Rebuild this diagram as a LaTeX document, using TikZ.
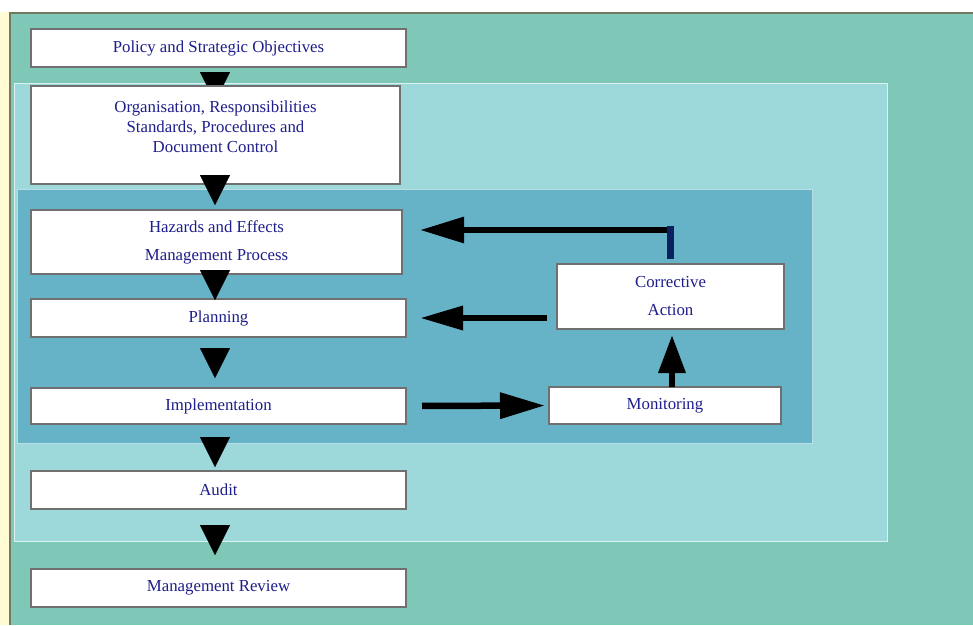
\documentclass[tikz,border=0pt]{standalone}
\usepackage{fontspec}
\setmainfont{Liberation Serif}
\usepackage{xcolor}
\definecolor{cOuter}{HTML}{7FC8B7}
\definecolor{cMid}{HTML}{9DD8DB}
\definecolor{cInner}{HTML}{66B3C8}
\definecolor{cCream}{HTML}{FFFBD2}
\definecolor{cFrame}{HTML}{737A5E}
\definecolor{cEdge}{HTML}{707070}
\definecolor{cInk}{HTML}{1E1E8C}
\definecolor{cNavy}{HTML}{0B2060}
\usepackage{tikz}
\usetikzlibrary{positioning,arrows.meta,calc,backgrounds}
\tikzset{
  stage/.style={draw=cEdge,line width=1.3pt,fill=white,text=cInk,
    inner sep=0pt,outer sep=0pt,align=center,anchor=north west,
    minimum width=375pt,minimum height=38pt,
    font=\fontsize{16.8}{20}\selectfont},
  region/.style={line width=1pt},
  drop/.style={-{Triangle[length=30pt,width=30pt]},line width=0.2pt,draw=black},
  flow/.style={-{Triangle[length=44pt,width=25pt]},line width=6.5pt,draw=black},
  flow-back/.style={line width=7pt,draw=cNavy},
}

\begin{document}
\begin{tikzpicture}[x=1pt,y=-1pt]
  \useasboundingbox (0,0) rectangle (973,625);
  % main column
  \node[stage] (pol) at (31,29) {Policy and Strategic Objectives};
  \node[stage,minimum width=369pt,minimum height=98pt,below=19pt of pol.south west,anchor=north west] (org)
    {Organisation, Responsibilities\\Standards, Procedures and\\Document Control\\[-9pt]\strut};
  \node[stage,minimum width=371pt,minimum height=64pt,below=26pt of org.south west,anchor=north west] (haz)
    {Hazards and Effects\\[8pt]Management Process};
  \node[stage,below=25pt of haz.south west,anchor=north west] (pln) {Planning};
  \node[stage,minimum height=36pt,below=51pt of pln.south west,anchor=north west] (imp) {Implementation};
  \node[stage,below=47pt of imp.south west,anchor=north west] (aud) {Audit};
  \node[stage,below=60pt of aud.south west,anchor=north west] (mr) {Management Review};
  % loop on the right
  \node[stage,minimum width=227pt,minimum height=65pt] (cor) at (557,264) {Corrective\\[8pt]Action};
  \node[stage,minimum width=232pt,minimum height=37pt] (mon) at (549,387) {Monitoring};

  \coordinate (spine) at (215,0);
  \coordinate (mup) at ([xshift=7pt]mon.north);
  \coordinate (hin) at ([yshift=12pt]haz.east);
  \coordinate (bend) at (cor.north |- hin);

  \draw[drop,shorten <=-9pt,shorten >=5pt] (spine |- org.south) -- (spine |- haz.north);
  \draw[drop,shorten <=-4pt,shorten >=-1pt] (spine |- haz.south) -- (spine |- pln.north);
  \draw[drop,shorten <=11pt,shorten >=10pt] (spine |- pln.south) -- (spine |- imp.north);
  \draw[drop,shorten <=13pt,shorten >=4pt] (spine |- imp.south) -- (spine |- aud.north);
  \draw[drop,shorten <=16pt,shorten >=14pt] (spine |- aud.south) -- (spine |- mr.north);

  \draw[flow,-{Triangle[length=45pt,width=25pt]},shorten <=16pt,shorten >=4pt] (imp.east) -- (mon.west);
  \draw[flow,-{Triangle[length=38pt,width=26pt]},shorten >=6pt] (mup) -- (mup |- cor.south);
  \draw[flow,-{Triangle[length=43pt,width=23pt]},shorten <=10pt,shorten >=14pt] (cor.west |- pln.east) -- (pln.east);
  \draw[flow,line width=6pt,shorten >=18pt] (bend) -- (hin);
  \draw[flow-back,shorten <=5pt,shorten >=-4pt] (cor.north) -- (bend);

  \begin{scope}[on background layer]
    \fill[cCream] (0,12) rectangle (10,625);
    \fill[cOuter] (10,12) rectangle (973,625);
    \draw[cFrame,line width=2pt] (10,625) -- (10,13) -- (973,13);
    \draw[region,fill=cMid,draw=cMid!35!white] (14,83) rectangle (887,541);
    \draw[region,fill=cInner,draw=cInner!45!white] (17,189) rectangle (812,443);
    \draw[drop,shorten <=5pt,shorten >=-16pt] (spine |- pol.south) -- (spine |- org.north);
  \end{scope}
\end{tikzpicture}
\end{document}
